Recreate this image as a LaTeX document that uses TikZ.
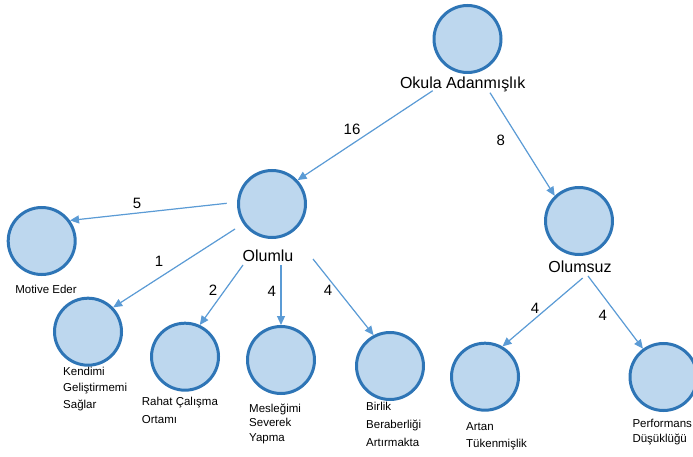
\documentclass[tikz,border=0pt]{standalone}
\usepackage{fontspec}
\setmainfont{Liberation Sans}
\usetikzlibrary{arrows.meta}
\definecolor{cfill}{HTML}{BDD7EE}
\definecolor{cdraw}{HTML}{2E75B6}
\definecolor{carr}{HTML}{5B9BD5}
\begin{document}
\begin{tikzpicture}[x=1pt,y=-1pt,
  blob/.style={circle,draw=cdraw,fill=cfill,line width=3pt,minimum size=67pt,inner sep=0pt},
  mainlbl/.style={inner sep=0pt,font=\fontsize{16}{18}\selectfont},
  numlbl/.style={inner sep=0pt,font=\fontsize{15}{17}\selectfont},
  smalllbl/.style={inner sep=0pt,anchor=north west,align=left},
  arr/.style={draw=carr,line width=1.2pt,-{Triangle[length=9pt,width=8pt]},fill=carr}]
\useasboundingbox (0,0) rectangle (693,457);
% circles
\node[blob] (okula) at (467.5,39) {};
\node[blob] (olumlu) at (272,204) {};
\node[blob] (olumsuz) at (579,221) {};
\node[blob] (motive) at (41.7,241) {};
\node[blob] (kendimi) at (88,331.7) {};
\node[blob] (rahat) at (185,356.7) {};
\node[blob] (meslek) at (281,360) {};
\node[blob] (birlik) at (390,366) {};
\node[blob] (artan) at (485,376.7) {};
\node[blob] (perf) at (663.5,377) {};
% main labels
\node[mainlbl] (lokula) at (462.7,84) {Okula Adanmışlık};
\node[mainlbl] (lolumlu) at (268,256) {Olumlu};
\node[mainlbl] (lolumsuz) at (580,267) {Olumsuz};
% small labels
\node[inner sep=0pt,font=\fontsize{11.5}{14}\selectfont] (lmotive) at (46,289) {Motive Eder};
\node[smalllbl,font=\fontsize{11.5}{16.3}\selectfont] (lkendimi) at (63,367) {Kendimi\\Geliştirmemi\\Sağlar};
\node[smalllbl,font=\fontsize{11.5}{18}\selectfont] (lrahat) at (141.7,397) {Rahat Çalışma\\Ortamı};
\node[smalllbl,font=\fontsize{11.5}{14.5}\selectfont] (lmeslek) at (249,403.5) {Mesleğimi\\Severek\\Yapma};
\node[smalllbl,font=\fontsize{11.5}{18}\selectfont] (lbirlik) at (366,402) {Birlik\\Beraberliği\\Artırmakta};
\node[smalllbl,font=\fontsize{11.5}{17.3}\selectfont] (lartan) at (466,422) {Artan\\Tükenmişlik};
\node[smalllbl,font=\fontsize{11.5}{15}\selectfont] (lperf) at (632.3,418.5) {Performans\\Düşüklüğü};
% arrow starts
\coordinate (s16) at (432.7,90.7);
\coordinate (s8) at (490,92.7);
\coordinate (s5) at (226.7,203.3);
\coordinate (s1) at (235,229);
\coordinate (s2) at (243,265);
\coordinate (s4a) at (281,265);
\coordinate (s4b) at (313,259);
\coordinate (s4c) at (582.7,278);
\coordinate (s4d) at (588,276);
% arrows
\draw[arr] (s16) -- (olumlu.43);
\draw[arr] (s8) -- (olumsuz.134);
\draw[arr] (s5) -- (motive.36);
\draw[arr] (s1) -- (kendimi.44);
\draw[arr] (s2) -- (rahat.65);
\draw[arr] (s4a) -- (meslek.90);
\draw[arr] (s4b) -- (birlik.118);
\draw[arr] (s4c) -- (artan.60);
\draw[arr] (s4d) -- (perf.126);
% numbers
\node[numlbl] (n16) at (352,129) {16};
\node[numlbl] (n8) at (500.7,140) {8};
\node[numlbl] (n5) at (137,203) {5};
\node[numlbl] (n1) at (159,261) {1};
\node[numlbl] (n2) at (213,290) {2};
\node[numlbl] (n4a) at (271.7,291) {4};
\node[numlbl] (n4b) at (328,290) {4};
\node[numlbl] (n4c) at (535,308) {4};
\node[numlbl] (n4d) at (602.7,315) {4};
\end{tikzpicture}
\end{document}
